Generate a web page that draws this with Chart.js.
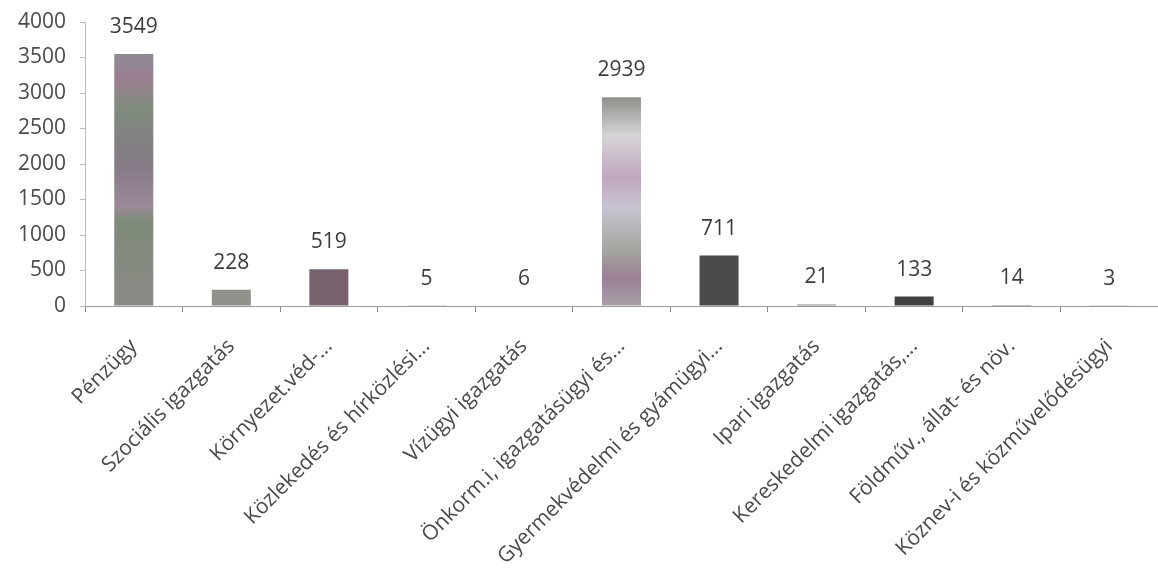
<!DOCTYPE html>
<html>
<head>
<meta charset="utf-8">
<script src="https://cdn.jsdelivr.net/npm/chart.js@4/dist/chart.umd.min.js"></script>
<style>
  html, body { margin: 0; padding: 0; background: #fff; }
  #wrap { width: 1158px; height: 575px; }
</style>
</head>
<body>
<div id="wrap"><canvas id="myChart" width="1158" height="575"></canvas></div>
<script>
const categories = [
    'Pénzügy',
    'Szociális igazgatás',
    'Környezet.véd-...',
    'Közlekedés és hírközlési...',
    'Vízügyi igazgatás',
    'Önkorm.i, igazgatásügyi és...',
    'Gyermekvédelmi és gyámügyi...',
    'Ipari igazgatás',
    'Kereskedelmi igazgatás,...',
    'Földműv., állat- és növ.',
    'Köznev-i és közművelődésügyi'
];
const values = [3549, 228, 519, 5, 6, 2939, 711, 21, 133, 14, 3];
const yTicks = [0, 500, 1000, 1500, 2000, 2500, 3000, 3500, 4000];

// rough colours of the scanned bars
const barColors = ['#8a8688', '#8f928b', '#76626e', '#8a8a8a', '#8a8a8a', '#b4adb3', '#4b4a4c', '#8a8a8a', '#404042', '#8a8a8a', '#8a8a8a'];

function barFill(context) {
    const chart = context.chart;
    const area = chart.chartArea;
    const i = context.dataIndex;
    if (!area) return barColors[i];
    const ctx = chart.ctx;
    if (i === 0) {
        const g = ctx.createLinearGradient(0, area.top, 0, area.bottom);
        g.addColorStop(0.1, '#8c8c96');
        g.addColorStop(0.2, '#9c7f92');
        g.addColorStop(0.3, '#7f8b7c');
        g.addColorStop(0.5, '#857a86');
        g.addColorStop(0.65, '#9a8a98');
        g.addColorStop(0.7, '#7e8a79');
        g.addColorStop(1, '#8a8a86');
        return g;
    }
    if (i === 5) {
        const g = ctx.createLinearGradient(0, area.top, 0, area.bottom);
        g.addColorStop(0.27, '#8f948c');
        g.addColorStop(0.4, '#d6d4d6');
        g.addColorStop(0.55, '#c0a6bf');
        g.addColorStop(0.65, '#c8c4d0');
        g.addColorStop(0.8, '#a4a6a0');
        g.addColorStop(0.9, '#9c8096');
        g.addColorStop(1, '#a8a0a8');
        return g;
    }
    return barColors[i];
}

// value labels above each bar
const valueLabels = {
    id: 'valueLabels',
    afterDatasetsDraw(chart) {
        const ctx = chart.ctx;
        const meta = chart.getDatasetMeta(0);
        ctx.save();
        ctx.font = '21px "Open Sans"';
        ctx.fillStyle = '#3c3c3c';
        ctx.textAlign = 'center';
        ctx.textBaseline = 'middle';
        meta.data.forEach((bar, i) => {
            ctx.fillText(values[i], bar.x, bar.y - 27);
        });
        ctx.restore();
    }
};

chart = new Chart(document.getElementById('myChart').getContext('2d'), {
    type: 'bar',
    data: {
        labels: categories,
        datasets: [{
            data: values,
            backgroundColor: barFill,
            borderWidth: 0,
            barPercentage: 0.4,
            categoryPercentage: 1
        }]
    },
    options: {
        responsive: false,
        animation: false,
        layout: { padding: { top: 22, right: 0, left: 0, bottom: 0 } },
        plugins: {
            legend: { display: false },
            tooltip: { enabled: false }
        },
        scales: {
            x: {
                offset: true,
                grid: {
                    display: true,
                    drawOnChartArea: false,
                    drawTicks: true,
                    tickLength: 6,
                    offset: true,
                    color: '#888'
                },
                border: { display: true, color: '#999', width: 1 },
                ticks: {
                    autoSkip: false,
                    maxRotation: 45,
                    minRotation: 45,
                    padding: 22,
                    color: '#4a4a4a',
                    font: { family: '"Open Sans"', size: 21 }
                },
                afterFit(scale) { scale.height = 269; }
            },
            y: {
                min: 0,
                max: 4000,
                afterBuildTicks(scale) {
                    scale.ticks = yTicks.map(v => ({ value: v }));
                },
                grid: {
                    display: true,
                    drawOnChartArea: false,
                    drawTicks: true,
                    tickLength: 5,
                    color: '#bbb'
                },
                border: { display: true, color: '#bbb', width: 1 },
                ticks: {
                    padding: 14,
                    color: '#4a4a4a',
                    font: { family: '"Open Sans"', size: 21 },
                    callback: v => String(v)
                },
                afterFit(scale) {
                    scale.width = 85;
                    scale.paddingTop = 0;
                    scale.paddingBottom = 0;
                }
            }
        }
    },
    plugins: [valueLabels]
});
</script>
</body>
</html>
